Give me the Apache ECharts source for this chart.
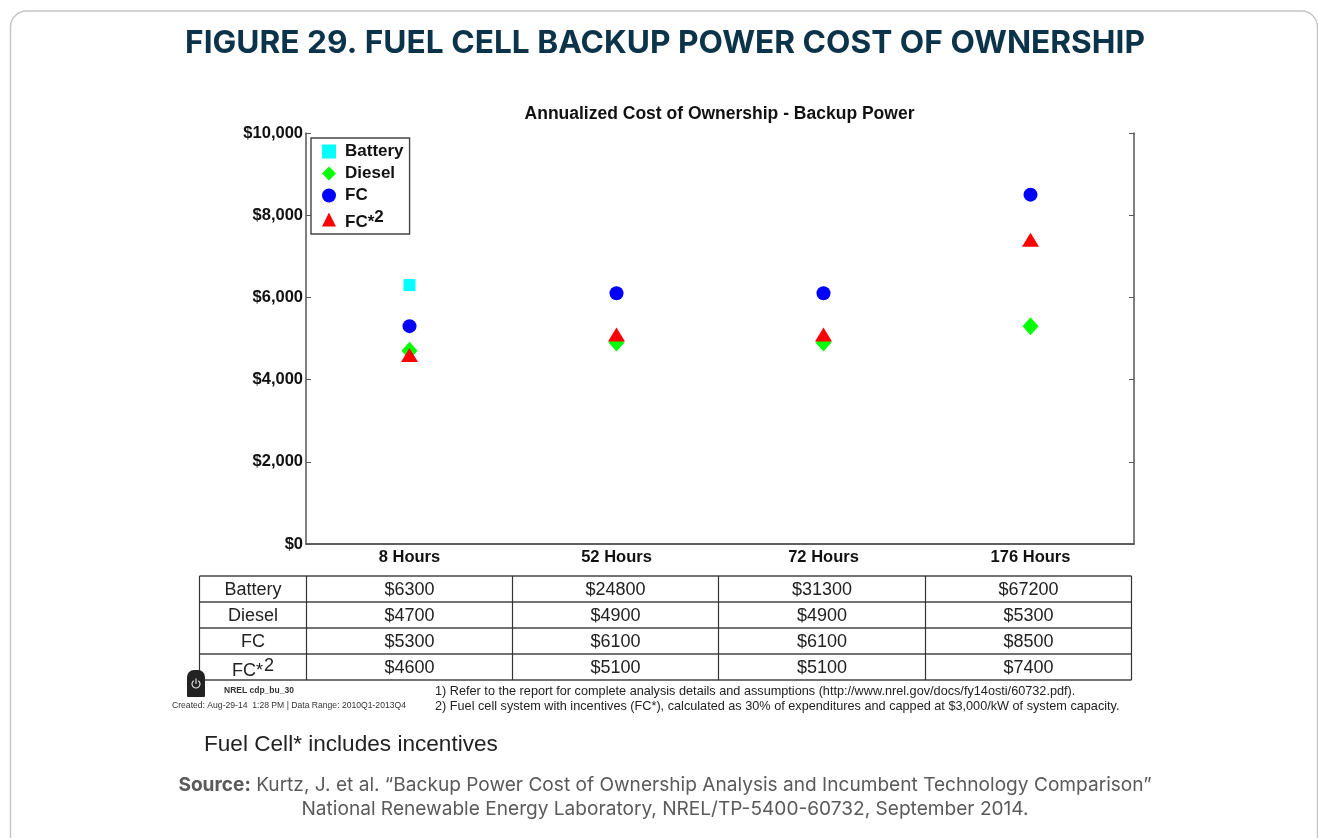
<!DOCTYPE html>
<html><head><meta charset="utf-8">
<style>html,body{margin:0;padding:0;background:#fff}#c{width:1318px;height:838px}</style>
<script src="https://cdn.jsdelivr.net/npm/echarts@6/dist/echarts.min.js"></script>
</head><body><div id="c"></div>
<script>
const categories = ['8 Hours','52 Hours','72 Hours','176 Hours'];
const battery = [6300,24800,31300,67200];
const diesel = [4700,4900,4900,5300];
const fc = [5300,6100,6100,8500];
const fcStar = [4600,5100,5100,7400];
const seriesNames = ['Battery','Diesel','FC','FC*2'];
const yTicks = [0,2000,4000,6000,8000,10000];
const figureTitle = 'FIGURE 29. FUEL CELL BACKUP POWER COST OF OWNERSHIP';
const chartTitle = 'Annualized Cost of Ownership - Backup Power';

const chart = echarts.init(document.getElementById('c'), null, {renderer:'canvas'});
const AF = '"Liberation Sans", Arial, sans-serif';
const UF = 'Inter, "Open Sans", sans-serif';
const AX = '#555';
const tableRows = [battery, diesel, fc, fcStar];
const colX = [199.5,306.5,512.5,718.5,925.5,1131.5];
const rowY = [576,602,628,654,680];
const g = [];
g.push({type:'rect',silent:true,z:0,shape:{x:10.5,y:11,width:1307,height:860,r:16},style:{fill:'#fff',stroke:'#c4c4c4',lineWidth:1.4}});
// table
rowY.forEach(y=>g.push({type:'line',z:5,shape:{x1:colX[0],y1:y,x2:colX[5],y2:y},style:{stroke:'#444',lineWidth:1.4}}));
colX.forEach(x=>g.push({type:'line',z:5,shape:{x1:x,y1:rowY[0],x2:x,y2:rowY[4]},style:{stroke:'#333',lineWidth:1.2}}));
seriesNames.forEach((n,r)=>{
  const cy=(rowY[r]+rowY[r+1])/2;
  const sup = n.endsWith('*2');
  g.push({type:'text',z:6,style:{x:(colX[0]+colX[1])/2,y:cy+1,align:'center',verticalAlign:'middle',
    text: sup? '{a|FC*}{b|2}' : n, font:'18px '+AF, fill:'#222',
    rich:{a:{font:'18px '+AF,fill:'#222',padding:[6,0,0,0]},b:{font:'18px '+AF,fill:'#222',padding:[0,0,4,1]}}}});
  tableRows[r].forEach((v,c)=>{
    g.push({type:'text',z:6,style:{x:(colX[c+1]+colX[c+2])/2,y:cy+1,align:'center',verticalAlign:'middle',text:'$'+v,font:'18px '+AF,fill:'#222'}});
  });
});
// power icon
g.push({type:'rect',z:7,shape:{x:187,y:670,width:18,height:27,r:[7,7,1,1]},style:{fill:'#222'}});
g.push({type:'arc',z:8,shape:{cx:196,cy:684,r:4,startAngle:-Math.PI/2+0.6,endAngle:-Math.PI/2-0.6+Math.PI*2},style:{stroke:'#ddd',lineWidth:1.2,fill:null}});
g.push({type:'line',z:8,shape:{x1:196,y1:678.5,x2:196,y2:684},style:{stroke:'#ddd',lineWidth:1.2}});
// footer texts
const t=(x,y,text,font,fill,align)=>g.push({type:'text',z:6,style:{x,y,text,font,fill,align:align||'left',verticalAlign:'middle'}});
t(224,691,'NREL cdp_bu_30','bold 8.5px '+AF,'#333');
t(172,706,'Created: Aug-29-14  1:28 PM | Data Range: 2010Q1-2013Q4','8.6px '+AF,'#333');
t(435,691,'1) Refer to the report for complete analysis details and assumptions (http://www.nrel.gov/docs/fy14osti/60732.pdf).','12.7px '+AF,'#222');
t(435,706,'2) Fuel cell system with incentives (FC*), calculated as 30% of expenditures and capped at $3,000/kW of system capacity.','12.7px '+AF,'#222');
t(204,745,'Fuel Cell* includes incentives','22.6px '+AF,'#222');
g.push({type:'text',z:6,style:{x:665,y:785,align:'center',verticalAlign:'middle',
  text:'{b|Source:} Kurtz, J. et al. “Backup Power Cost of Ownership Analysis and Incumbent Technology Comparison”',
  font:'19.1px '+UF,fill:'#5a5a5a',rich:{b:{font:'bold 19.1px '+UF,fill:'#5a5a5a'}}}});
t(665,809,'National Renewable Energy Laboratory, NREL/TP-5400-60732, September 2014.','19.1px '+UF,'#5a5a5a','center');

const mk=(name,data,symbol,size,color)=>({type:'scatter',name,data,symbol,symbolSize:size,clip:true,z:3,itemStyle:{color,opacity:1},emphasis:{disabled:true}});
chart.setOption({
  animation:false,
  backgroundColor:'#fff',
  title:[
    {text:figureTitle,left:660,top:22,textAlign:'center',textStyle:{fontFamily:'Inter, sans-serif',fontWeight:'bold',fontSize:31.7,color:'#0b3349'}},
    {text:chartTitle,left:714.5,top:100,textAlign:'center',textStyle:{fontFamily:AF,fontWeight:'bold',fontSize:17.5,color:'#111'}}
  ],
  grid:{left:306,right:184,top:133,bottom:294,containLabel:false},
  xAxis:[
    {type:'category',data:categories,position:'bottom',axisLine:{lineStyle:{color:AX,width:1.5}},
      axisTick:{inside:true,alignWithLabel:true,length:5,lineStyle:{color:AX}},
      axisLabel:{fontFamily:AF,fontWeight:'bold',fontSize:16.5,color:'#111',margin:5},splitLine:{show:false}},
    {type:'category',data:categories,position:'top',axisLine:{lineStyle:{color:AX,width:1.5}},
      axisTick:{inside:true,alignWithLabel:true,length:5,lineStyle:{color:AX}},axisLabel:{show:false},splitLine:{show:false}}
  ],
  yAxis:[
    {type:'value',min:yTicks[0],max:yTicks[5],interval:yTicks[1],position:'left',axisLine:{show:true,lineStyle:{color:AX,width:1.5}},
      axisTick:{show:true,inside:true,length:5,lineStyle:{color:AX}},splitLine:{show:false},
      axisLabel:{fontFamily:AF,fontWeight:'bold',fontSize:16.5,color:'#111',margin:3,padding:[4,0,0,0],formatter:v=>'$'+v.toLocaleString('en-US')}},
    {type:'value',min:yTicks[0],max:yTicks[5],interval:yTicks[1],position:'right',axisLine:{show:true,lineStyle:{color:AX,width:1.5}},
      axisTick:{show:true,inside:true,length:5,lineStyle:{color:AX}},splitLine:{show:false},axisLabel:{show:false}}
  ],
  legend:{
    orient:'vertical',left:311,top:138,itemGap:5,itemWidth:14,itemHeight:14,
    padding:[5,6,3,11],backgroundColor:'#fff',borderColor:'#444',borderWidth:1.4,z:10,
    data:seriesNames.map(n=>({name:n})),
    selectedMode:false,
    textStyle:{fontFamily:AF,fontWeight:'bold',fontSize:17,color:'#111',padding:[0,0,0,2],
      rich:{n:{fontFamily:AF,fontWeight:'bold',fontSize:17,color:'#111',padding:[0,0,0,2]},a:{fontFamily:AF,fontWeight:'bold',fontSize:17,color:'#111',padding:[6,0,0,2]},b:{fontFamily:AF,fontSize:17,color:'#111',padding:[0,0,4,0]}}},
    formatter:n=>n==='FC*2'?'{a|FC*}{b|2}':'{n|'+n+'}'
  },
  series:[
    mk(seriesNames[0],battery,'rect',12,'#00ffff'),
    mk(seriesNames[1],diesel,'diamond',[16,18],'#00ff00'),
    mk(seriesNames[2],fc,'circle',14,'#0000ff'),
    mk(seriesNames[3],fcStar,'triangle',[17,14],'#ff0000')
  ],
  graphic:{elements:g}
});
</script></body></html>
